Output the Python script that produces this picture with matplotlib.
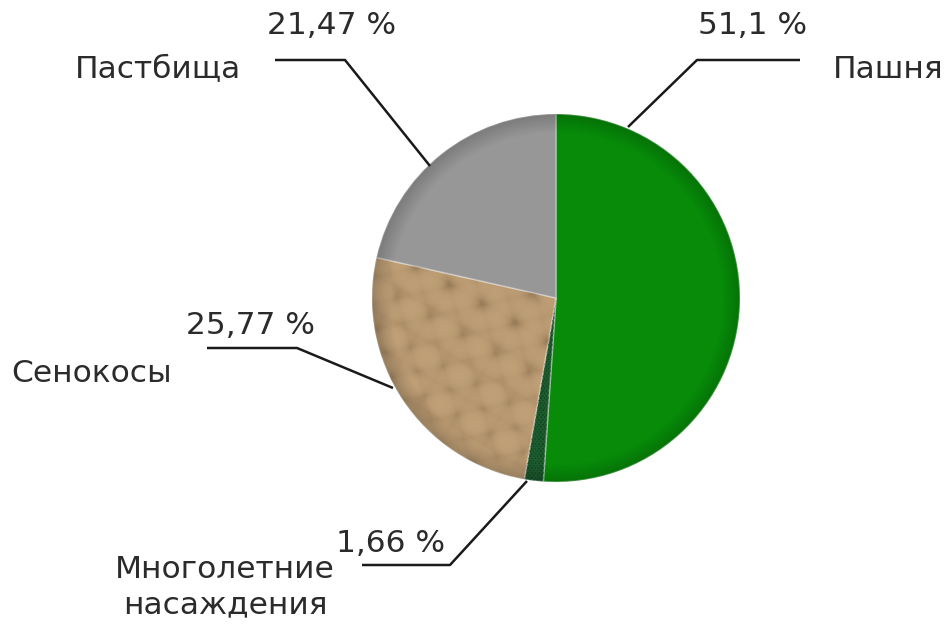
import numpy as np
import matplotlib
matplotlib.use("Agg")
import matplotlib.pyplot as plt

# ===== data =====
categories = ["Пашня", "Многолетние\nнасаждения", "Сенокосы", "Пастбища"]
shares = [51.1, 1.66, 25.77, 21.47]
pct_labels = ["51,1 %", "1,66 %", "25,77 %", "21,47 %"]

# ===== style / layout (pixel coords, y from the top of the picture) =====
W, H = 944, 624
colors = ["#078b09", "#1d5a30", "#bf9f76", "#979797"]
TEXT = "#2b2b2b"
FS = 22.5
CX, CY, R = 556, 298, 184

# leader lines: anchor on pie -> elbow -> end of horizontal
leaders = [
    [(628, 127), (697, 60), (800, 60)],
    [(527, 481), (450, 565), (362, 565)],
    [(393, 388), (297, 348), (207, 348)],
    [(430, 166), (345, 60), (275, 60)],
]
pct_pos = [(753, 25), (391, 543), (250, 325), (332, 25)]
name_pos = [(888, 70), (225, 587), (92, 374), (158, 70)]


def fy(y):
    return H - y


fig = plt.figure(figsize=(W / 100, H / 100), dpi=100)
ax = fig.add_axes([0, 0, 1, 1])

wedges, _ = ax.pie(shares, colors=colors, startangle=90, counterclock=False,
                   center=(CX, fy(CY)), radius=R,
                   wedgeprops=dict(linewidth=1.2, edgecolor="#ffffff55"))

yy, xx = np.mgrid[0:H, 0:W].astype(float)

# crumpled-paper look for the hay slice (a few crossed ridges, just styling)
ridges = (np.abs(np.sin(xx * 0.071 + yy * 0.043)) + np.abs(np.sin(xx * -0.052 + yy * 0.089 + 1.3))
          + np.abs(np.sin(xx * 0.113 - yy * 0.031 + 2.1)) + np.abs(np.sin(xx * 0.027 + yy * 0.121 + 0.4)))
ridges = (ridges - ridges.min()) / (ridges.max() - ridges.min())
tex = np.zeros((H, W, 4))
tex[..., :3] = np.array([0.33, 0.24, 0.13])
tex[..., 3] = 0.42 * (1 - ridges) ** 2
im = ax.imshow(tex, extent=(0, W, 0, H), origin="upper", zorder=2.5)
im.set_clip_path(wedges[2])

# speckle for the thin dark-green slice
spk = np.zeros((H, W, 4))
spk[..., 1] = 0.2
spk[..., 3] = 0.35 * (np.sin(xx * 1.7) * np.sin(yy * 1.3) > 0.3)
im = ax.imshow(spk, extent=(0, W, 0, H), origin="upper", zorder=2.5)
im.set_clip_path(wedges[1])

# soft rim shading to hint the bevel of the original
dist = np.hypot(xx - CX, yy - CY) / R
shade = np.clip((dist - 0.9) / 0.1, 0, 1)
rgba = np.zeros((H, W, 4))
rgba[..., 3] = 0.18 * shade
for w in wedges:
    im = ax.imshow(rgba, extent=(0, W, 0, H), origin="upper", zorder=3)
    im.set_clip_path(w)

for pts in leaders:
    xs = [p[0] for p in pts]
    ys = [fy(p[1]) for p in pts]
    ax.plot(xs, ys, color="#1a1a1a", lw=1.8, zorder=4, solid_capstyle="butt")

for lab, (x, y) in zip(pct_labels, pct_pos):
    ax.text(x, fy(y), lab, fontsize=FS, color=TEXT, ha="center", va="center")
for name, (x, y) in zip(categories, name_pos):
    ax.text(x, fy(y), name, fontsize=FS, color=TEXT, ha="center", va="center",
            linespacing=1.25, multialignment="center")

ax.set_xlim(0, W)
ax.set_ylim(0, H)
ax.set_aspect("equal")
ax.axis("off")

fig.savefig("out.png", dpi=100, facecolor="white")
